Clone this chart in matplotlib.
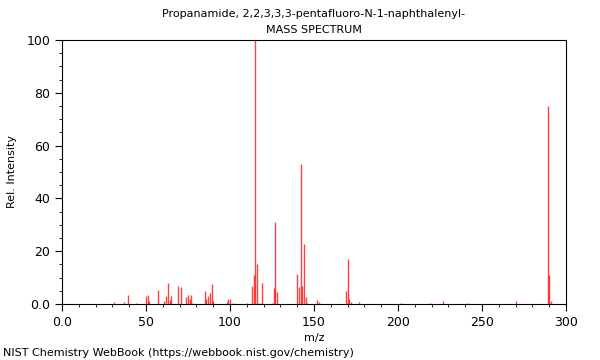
import matplotlib
matplotlib.use("Agg")
import matplotlib.pyplot as plt
from matplotlib.ticker import MultipleLocator, FixedFormatter, FixedLocator

mz = [31, 37, 39, 44, 50, 51, 52, 57, 61, 62, 63, 64, 65, 69, 71, 74, 75, 76, 77, 78,
      85, 86, 87, 88, 89, 90, 98, 99, 100, 102, 110, 113, 114, 115, 116, 117, 119,
      125, 126, 127, 128, 140, 141, 142, 143, 144, 145, 146, 152, 153,
      169, 170, 171, 172, 177, 202, 219, 227, 241, 270, 289, 290, 291]
intensity = [0.8, 0.9, 3.3, 0.5, 3.0, 3.4, 1.0, 5.2, 1.0, 3.0, 8.0, 1.5, 3.0, 6.9, 6.5, 2.5, 3.5, 2.0, 3.4, 0.5,
             4.9, 1.9, 3.0, 4.0, 7.6, 1.0, 0.7, 2.0, 2.0, 0.5, 0.5, 6.8, 10.8, 100.0, 15.0, 0.5, 7.8,
             0.5, 6.0, 31.2, 4.7, 11.3, 6.4, 52.9, 7.0, 22.6, 2.8, 0.5, 1.4, 0.7,
             5.0, 17.0, 2.0, 0.7, 0.7, 0.5, 0.3, 1.0, 0.3, 1.0, 75.0, 11.0, 1.1]

title_lines = ["Propanamide, 2,2,3,3,3-pentafluoro-N-1-naphthalenyl-", "MASS SPECTRUM"]
x_ticks = [0, 50, 100, 150, 200, 250, 300]
x_tick_labels = ["0.0", "50", "100", "150", "200", "250", "300"]
y_ticks = [0, 20, 40, 60, 80, 100]
y_tick_labels = ["0.0", "20", "40", "60", "80", "100"]

fig = plt.figure(figsize=(6, 3.6), dpi=100)
ax = fig.add_axes([62/600, 56/360, 504/600, 264/360])
ax.vlines(mz, 0, intensity, colors="#ff0000", linewidth=1.0, alpha=0.75)
ax.set_xlim(0, 300)
ax.set_ylim(0, 100)
ax.xaxis.set_major_locator(FixedLocator(x_ticks))
ax.xaxis.set_major_formatter(FixedFormatter(x_tick_labels))
ax.yaxis.set_major_locator(FixedLocator(y_ticks))
ax.yaxis.set_major_formatter(FixedFormatter(y_tick_labels))
ax.xaxis.set_minor_locator(MultipleLocator(10))
ax.yaxis.set_minor_locator(MultipleLocator(5))
ax.tick_params(which="major", length=5, width=0.8, labelsize=9, direction="out")
ax.tick_params(which="minor", length=2.5, width=0.6, direction="out")
for s in ax.spines.values():
    s.set_linewidth(0.8)
ax.set_xlabel("m/z", fontsize=8, labelpad=3)
ax.set_ylabel("Rel. Intensity", fontsize=8, labelpad=7)
fig.text(314/600, 1 - 14/360, title_lines[0], ha="center", va="center", fontsize=8)
fig.text(314/600, 1 - 30/360, title_lines[1], ha="center", va="center", fontsize=8)
fig.text(3/600, 1 - 353/360, "NIST Chemistry WebBook (https://webbook.nist.gov/chemistry)",
         ha="left", va="center", fontsize=8)
fig.savefig("out.png", dpi=100)
